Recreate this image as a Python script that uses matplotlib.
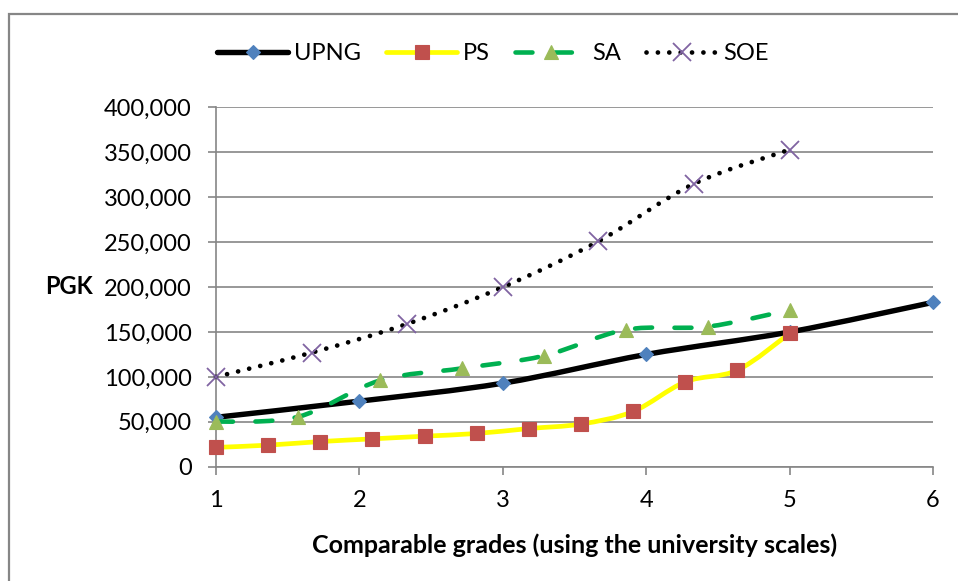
import matplotlib
matplotlib.use("Agg")
import matplotlib.pyplot as plt
import numpy as np
from matplotlib.path import Path
from matplotlib.patches import PathPatch, Rectangle
from matplotlib.lines import Line2D
from matplotlib.ticker import FuncFormatter

plt.rcParams['font.family'] = ['Lato', 'DejaVu Sans']

# ---- data ----
series_names = ["UPNG", "PS", "SA", "SOE"]
upng_x = [1, 2, 3, 4, 5, 6]
upng_y = [55000, 73000, 93000, 125000, 150000, 183000]
ps_x = [1, 1.364, 1.727, 2.091, 2.455, 2.818, 3.182, 3.545, 3.909, 4.273, 4.636, 5]
ps_y = [21500, 24000, 28000, 31000, 34000, 37000, 42500, 47500, 61500, 94500, 107500, 148500]
sa_x = [1, 1.571, 2.143, 2.714, 3.286, 3.857, 4.429, 5]
sa_y = [50000, 55500, 96000, 109500, 123500, 152500, 156000, 174500]
soe_x = [1, 1.667, 2.333, 3, 3.667, 4.333, 5]
soe_y = [100000, 127000, 159000, 200000, 251000, 315000, 353000]
x_ticks = [1, 2, 3, 4, 5, 6]
y_ticks = [0, 50000, 100000, 150000, 200000, 250000, 300000, 350000, 400000]
x_label = "Comparable grades (using the university scales)"
y_label = "PGK"

W, H = 958, 581
fig = plt.figure(figsize=(W / 100, H / 100), dpi=100)
ax = fig.add_axes([216 / W, 1 - 466.7 / H, (933 - 216) / W, (466.7 - 107.5) / H])

grid_col = "#868686"
fs = 17

# outer chart border
fig.add_artist(Rectangle((8.5 / W, -0.2), 1.5, 1.2 - 14 / H, transform=fig.transFigure,
                         fill=False, edgecolor=grid_col, lw=1.6, zorder=0))


def smooth_path(xs, ys):
    P = np.column_stack([xs, ys]).astype(float)
    n = len(P)
    verts = [P[0]]
    codes = [Path.MOVETO]
    for i in range(n - 1):
        p0 = P[i - 1] if i > 0 else P[i]
        p1 = P[i]
        p2 = P[i + 1]
        p3 = P[i + 2] if i + 2 < n else P[i + 1]
        c1 = p1 + (p2 - p0) / 6.0
        c2 = p2 - (p3 - p1) / 6.0
        verts += [c1, c2, p2]
        codes += [Path.CURVE4] * 3
    return Path(np.array(verts), codes)


styles = [
    dict(x=upng_x, y=upng_y, color="black", lw=3.9, ls="-", cap="round",
         marker="D", ms=7.5, mfc="#4F81BD", mec="#4F81BD", mew=0.8),
    dict(x=ps_x, y=ps_y, color="#FFFF00", lw=3.4, ls="-", cap="round",
         marker="s", ms=10, mfc="#C0504D", mec="#C0504D", mew=0.8),
    dict(x=sa_x, y=sa_y, color="#00B050", lw=3.3, ls=(0, (3.7, 4.9)), cap="round",
         marker="^", ms=10.5, mfc="#9BBB59", mec="#9BBB59", mew=0.8),
    dict(x=soe_x, y=soe_y, color="black", lw=3.4, ls=(0, (0.01, 2.4)), cap="round",
         marker="x", ms=13.5, mfc="#8064A2", mec="#8064A2", mew=1.3),
]

handles = []
for i, s in enumerate(styles):
    patch = PathPatch(smooth_path(s["x"], s["y"]), fill=False, edgecolor=s["color"],
                      lw=s["lw"], linestyle=s["ls"], capstyle=s["cap"], joinstyle="round",
                      zorder=3 + 2 * i, clip_on=False)
    ax.add_patch(patch)
    ax.plot(s["x"], s["y"], ls="none", marker=s["marker"], ms=s["ms"], mfc=s["mfc"],
            mec=s["mec"], mew=s["mew"], zorder=4 + 2 * i, clip_on=False)
    handles.append(Line2D([], [], color=s["color"], lw=s["lw"], ls=s["ls"],
                          dash_capstyle=s["cap"], solid_capstyle="round",
                          marker=s["marker"], ms=s["ms"], mfc=s["mfc"], mec=s["mec"], mew=s["mew"]))

ax.set_xlim(1, 6)
ax.set_ylim(0, 400000)
ax.set_xticks(x_ticks)
ax.set_yticks(y_ticks)
ax.yaxis.set_major_formatter(FuncFormatter(lambda v, p: f"{v:,.0f}"))
ax.grid(axis="y", color=grid_col, lw=1.2, zorder=1)
ax.set_axisbelow(True)
for side in ["top", "right"]:
    ax.spines[side].set_visible(False)
for side in ["left", "bottom"]:
    ax.spines[side].set_color(grid_col)
    ax.spines[side].set_linewidth(1.2)
ax.tick_params(axis="both", direction="out", length=5.5, width=1.2, color=grid_col,
               labelsize=fs, labelcolor="black")
ax.tick_params(axis="y", pad=12)
ax.tick_params(axis="x", pad=11)

ax.set_xlabel(x_label, fontsize=18, fontweight="bold")
ax.xaxis.set_label_coords(0.5, (466.7 - 545) / 359.2)
ax.xaxis.label.set_va("center")
ax.set_ylabel(y_label, fontsize=fs, fontweight="bold", rotation=0)
ax.yaxis.set_label_coords((69 - 216) / 717, (466.7 - 287) / 359.2)
ax.yaxis.label.set_va("center")
ax.yaxis.label.set_ha("center")

fpx = fs * 100 / 72
leg = fig.legend(handles, series_names, loc="center", bbox_to_anchor=(493 / W, 1 - 53.5 / H),
                 ncol=4, frameon=False, fontsize=fs, handlelength=71 / fpx,
                 handletextpad=6 / fpx, columnspacing=25 / fpx, borderpad=0, borderaxespad=0)

fig.savefig("out.png", dpi=100)
